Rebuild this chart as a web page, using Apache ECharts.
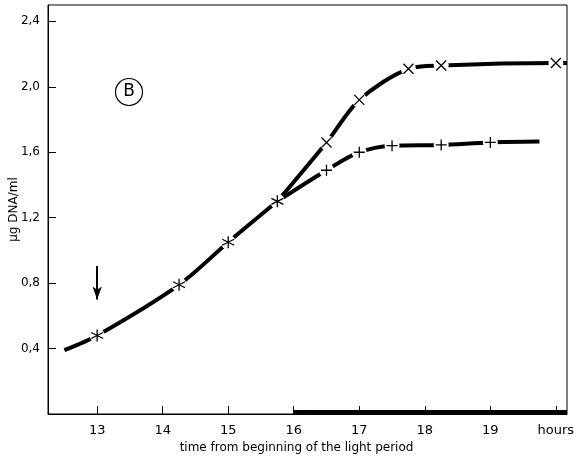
<!DOCTYPE html>
<html>
<head>
<meta charset="utf-8">
<script src="https://cdn.jsdelivr.net/npm/echarts@6/dist/echarts.min.js"></script>
<style>
  html, body { margin: 0; padding: 0; background: #fff; }
  #chart { width: 574px; height: 459px; }
</style>
</head>
<body>
<div id="chart"></div>
<script>
"use strict";
// hours from beginning of the light period / ug DNA per ml
const common = [[12.5, 0.39], [13, 0.48], [14.25, 0.79], [15, 1.05], [15.75, 1.30]];
const upper = [[15.75, 1.30], [16.5, 1.66], [17, 1.92], [17.75, 2.11], [18.25, 2.13], [20, 2.145], [20.17, 2.145]];
const lower = [[15.75, 1.30], [16.5, 1.49], [17, 1.60], [17.5, 1.64], [18.25, 1.645], [19, 1.66], [19.75, 1.665]];

// measured points (marker positions)
const commonPts = [[13, 0.48], [14.25, 0.79], [15, 1.05], [15.75, 1.30]];
const upperPts = [[16.5, 1.66], [17, 1.92], [17.75, 2.11], [18.25, 2.13], [20, 2.145]];
const lowerPts = [[16.5, 1.49], [17, 1.60], [17.5, 1.64], [18.25, 1.645], [19, 1.66]];

const xTicks = [13, 14, 15, 16, 17, 18, 19, 20];
const yTicks = [0.4, 0.8, 1.2, 1.6, 2.0, 2.4];
const darkStart = 16;
const xMin = 12.25, xMax = 20.17;

const FONT = 'DejaVu Sans';
const CROSS = 'path://M0,0L10,10M10,0L0,10';
const PLUS = 'path://M5,0L5,10M0,5L10,5';
const STAR = 'path://M5,0L5,10M0.7,2.5L9.3,7.5M0.7,7.5L9.3,2.5';

const curve = function (data) {
  return {
    type: 'line', data: data, smooth: 0.3, symbol: 'none', z: 2,
    lineStyle: { color: '#000', width: 4 }
  };
};
// white blob to cut the gap in the line round each marker
const gap = function (data) {
  return {
    type: 'scatter', data: data, symbol: 'circle', symbolSize: 15, z: 5,
    itemStyle: { color: '#fff', opacity: 1 }
  };
};
const marks = function (data, sym, size) {
  return {
    type: 'scatter', data: data, symbol: sym, symbolSize: size, z: 6,
    itemStyle: { color: 'transparent', borderColor: '#000', borderWidth: 1.3, opacity: 1 }
  };
};

const chart = echarts.init(document.getElementById('chart'));
chart.setOption({
  animation: false,
  grid: {
    left: 48, right: 7, top: 5, bottom: 45, outerBoundsMode: 'none',
    show: true, borderColor: '#000', borderWidth: 1
  },
  xAxis: {
    type: 'value', min: xMin, max: xMax,
    name: 'time from beginning of the light period',
    nameLocation: 'middle', nameGap: 27,
    nameTextStyle: { fontFamily: FONT, fontSize: 12, color: '#000', padding: [0, 22, 0, 0] },
    axisLine: { lineStyle: { color: '#000', width: 1 } },
    axisTick: { inside: true, length: 8, customValues: xTicks, lineStyle: { color: '#000' } },
    axisLabel: {
      customValues: xTicks, margin: 10, color: '#000', fontFamily: FONT, fontSize: 13,
      formatter: v => v === 20 ? 'hours' : String(v)
    },
    splitLine: { show: false }
  },
  yAxis: {
    type: 'value', min: 0, max: 2.5,
    name: 'µg DNA/ml', nameLocation: 'middle', nameGap: 28, nameMoveOverlap: false,
    nameTextStyle: { fontFamily: FONT, fontSize: 12, color: '#000' },
    axisLine: { lineStyle: { color: '#000', width: 1 } },
    axisTick: { inside: true, length: 8, customValues: yTicks, lineStyle: { color: '#000' } },
    axisLabel: {
      customValues: yTicks, margin: 8, color: '#000', fontFamily: FONT, fontSize: 12,
      formatter: v => v.toFixed(1).replace('.', ',')
    },
    splitLine: { show: false }
  },
  series: [
    Object.assign(curve(common), {
      // arrow over the first point
      markLine: {
        silent: true, symbol: ['none', 'arrow'], symbolSize: [7, 13],
        label: { show: false },
        lineStyle: { color: '#000', width: 2, type: 'solid' },
        data: [[{ coord: [13, 0.905] }, { coord: [13, 0.70] }]]
      },
      // thick bar along the axis: dark period
      markArea: {
        silent: true,
        itemStyle: { color: '#000' },
        data: [[{ coord: [darkStart, 0] }, { coord: [xMax, 0.025] }]]
      }
    }),
    curve(upper),
    curve(lower),
    gap(commonPts),
    gap(upperPts),
    gap(lowerPts),
    marks(commonPts, STAR, 12),
    marks(upperPts, CROSS, 10),
    marks(lowerPts, PLUS, 11)
  ],
  graphic: [
    { type: 'circle', shape: { cx: 129, cy: 92, r: 13.5 }, style: { fill: 'none', stroke: '#000', lineWidth: 1.2 } },
    { type: 'text', x: 129, y: 92, style: { text: 'B', fontFamily: FONT, fontSize: 17, fill: '#000', align: 'center', verticalAlign: 'middle' } }
  ]
});
</script>
</body>
</html>
